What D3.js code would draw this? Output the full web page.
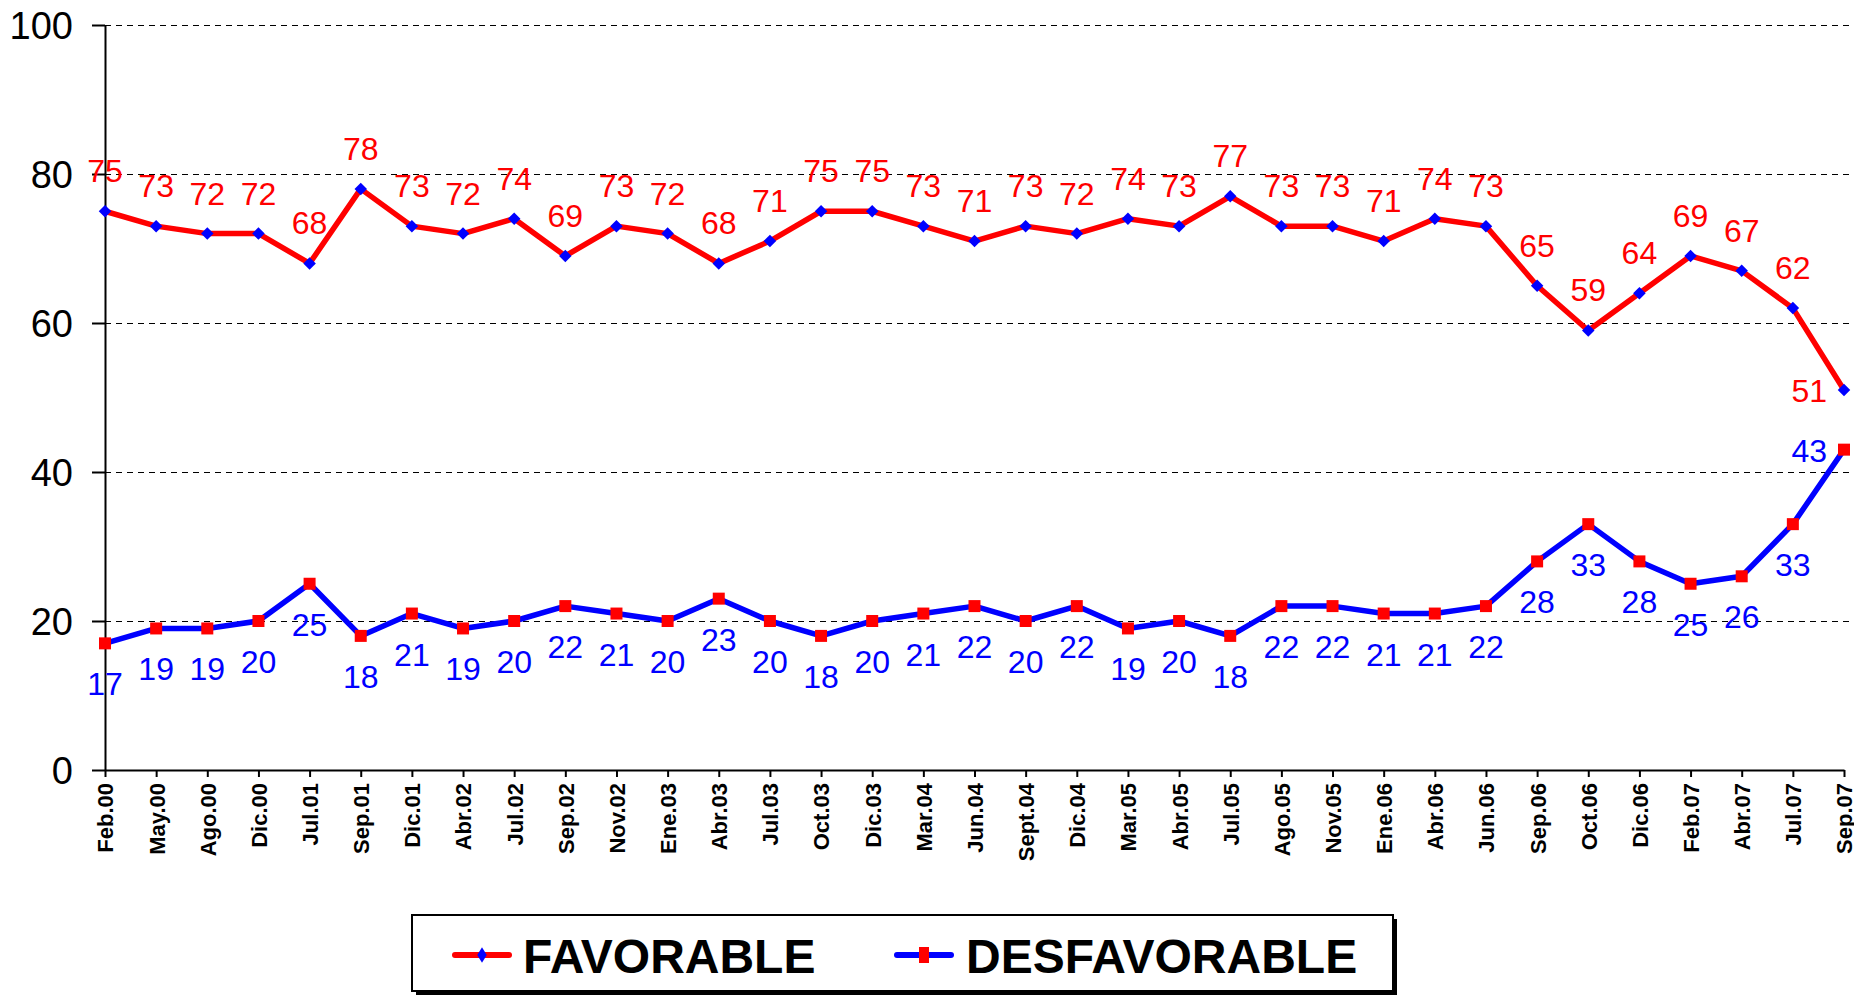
<!DOCTYPE html>
<html>
	<head>
		<meta charset="utf-8"/>
		<script type="text/javascript" src="https://cdn.jsdelivr.net/npm/d3@7"></script>
		<style>
			body {
				margin:0;
				background:#FFF;
			}
			svg text {
				font-family:Arial, "Liberation Sans", sans-serif;
			}
			.ytick text {
				font-size:38px;
				fill:black;
			}
			.xtick text {
				font-size:22px;
				font-weight:bold;
				fill:black;
			}
			.label_fav {
				font-size:32px;
				fill:#FF0000;
			}
			.label_des {
				font-size:32px;
				fill:#0000FF;
			}
			.legend_text {
				font-size:48px;
				font-weight:bold;
				fill:black;
			}
		</style>
	</head>
	<body>
		<script>
			var categories = ["Feb.00", "May.00", "Ago.00", "Dic.00", "Jul.01", "Sep.01", "Dic.01", "Abr.02", "Jul.02", "Sep.02",
				"Nov.02", "Ene.03", "Abr.03", "Jul.03", "Oct.03", "Dic.03", "Mar.04", "Jun.04", "Sept.04", "Dic.04",
				"Mar.05", "Abr.05", "Jul.05", "Ago.05", "Nov.05", "Ene.06", "Abr.06", "Jun.06", "Sep.06", "Oct.06",
				"Dic.06", "Feb.07", "Abr.07", "Jul.07", "Sep.07"];
			var favorable = [75, 73, 72, 72, 68, 78, 73, 72, 74, 69,
				73, 72, 68, 71, 75, 75, 73, 71, 73, 72,
				74, 73, 77, 73, 73, 71, 74, 73, 65, 59,
				64, 69, 67, 62, 51];
			var desfavorable = [17, 19, 19, 20, 25, 18, 21, 19, 20, 22,
				21, 20, 23, 20, 18, 20, 21, 22, 20, 22,
				19, 20, 18, 22, 22, 21, 21, 22, 28, 33,
				28, 25, 26, 33, 43];
			var y_ticks = [0, 20, 40, 60, 80, 100];
			var series_names = ["FAVORABLE", "DESFAVORABLE"];

			var width = 1854;
			var height = 995;
			var left = 105;
			var right = 1844;
			var top_y = 25;
			var bottom_y = 770;
			var red = "#FF0000";
			var blue = "#0000FF";

			var svg = d3.select("body").append("svg")
				.attr("width", width)
				.attr("height", height);

			var x = d3.scalePoint().domain(categories).range([left, right]);
			var y = d3.scaleLinear().domain([0, 100]).range([bottom_y, top_y]);

			// gridlines
			svg.append("g")
				.selectAll("line")
				.data(y_ticks.filter(function(d) { return d > 0; }))
				.enter().append("line")
				.attr("x1", left)
				.attr("x2", 1849)
				.attr("y1", function(d) { return Math.round(y(d)) + 0.5; })
				.attr("y2", function(d) { return Math.round(y(d)) + 0.5; })
				.attr("stroke", "#000")
				.attr("stroke-width", 1)
				.attr("stroke-dasharray", "6,5");

			// y axis
			var yAxis = svg.append("g")
				.attr("class", "ytick")
				.attr("transform", "translate(" + left + ",0)")
				.call(d3.axisLeft(y).tickValues(y_ticks).tickSize(13).tickPadding(19).tickSizeOuter(0));
			yAxis.select(".domain").attr("stroke", "#000").attr("stroke-width", 2);
			yAxis.selectAll(".tick line").attr("stroke-width", 2);
			yAxis.selectAll("text").attr("font-family", null).attr("font-size", null).attr("dy", "0.36em");

			// x axis
			var xAxis = svg.append("g")
				.attr("class", "xtick")
				.attr("transform", "translate(0," + bottom_y + ")")
				.call(d3.axisBottom(x).tickSize(7).tickSizeOuter(0));
			xAxis.select(".domain").attr("stroke", "#000").attr("stroke-width", 2);
			xAxis.selectAll(".tick line").attr("stroke-width", 2);
			xAxis.selectAll("text")
				.attr("font-family", null)
				.attr("font-size", null)
				.attr("transform", "rotate(-90)")
				.attr("text-anchor", "end")
				.attr("x", -13)
				.attr("y", 0)
				.attr("dy", "0.36em");

			var line = d3.line()
				.x(function(d, i) { return x(categories[i]); })
				.y(function(d) { return y(d); });

			// favorable
			svg.append("path")
				.datum(favorable)
				.attr("d", line)
				.attr("fill", "none")
				.attr("stroke", red)
				.attr("stroke-width", 5.5)
				.attr("stroke-linejoin", "round");

			// desfavorable
			svg.append("path")
				.datum(desfavorable)
				.attr("d", line)
				.attr("fill", "none")
				.attr("stroke", blue)
				.attr("stroke-width", 5.5)
				.attr("stroke-linejoin", "round");

			var diamond = d3.symbol().type(d3.symbolDiamond2).size(100);

			svg.append("g")
				.selectAll("path")
				.data(favorable)
				.enter().append("path")
				.attr("d", diamond)
				.attr("transform", function(d, i) { return "translate(" + x(categories[i]) + "," + y(d) + ")"; })
				.attr("fill", blue);

			svg.append("g")
				.selectAll("rect")
				.data(desfavorable)
				.enter().append("rect")
				.attr("x", function(d, i) { return x(categories[i]) - 6; })
				.attr("y", function(d) { return y(d) - 6; })
				.attr("width", 12)
				.attr("height", 12)
				.attr("fill", red);

			var last = categories.length - 1;

			svg.append("g")
				.selectAll("text")
				.data(favorable)
				.enter().append("text")
				.attr("class", "label_fav")
				.attr("x", function(d, i) { return i == last ? x(categories[i]) - 17 : x(categories[i]); })
				.attr("y", function(d, i) { return i == last ? y(d) + 12 : y(d) - 29; })
				.attr("text-anchor", function(d, i) { return i == last ? "end" : "middle"; })
				.text(function(d) { return d; });

			svg.append("g")
				.selectAll("text")
				.data(desfavorable)
				.enter().append("text")
				.attr("class", "label_des")
				.attr("x", function(d, i) { return i == last ? x(categories[i]) - 17 : x(categories[i]); })
				.attr("y", function(d, i) { return i == last ? y(d) + 12 : y(d) + 52; })
				.attr("text-anchor", function(d, i) { return i == last ? "end" : "middle"; })
				.text(function(d) { return d; });

			// legend
			var legend = svg.append("g");
			legend.append("rect")
				.attr("x", 416)
				.attr("y", 919)
				.attr("width", 981)
				.attr("height", 76)
				.attr("fill", "#000");
			legend.append("rect")
				.attr("x", 412)
				.attr("y", 915)
				.attr("width", 981)
				.attr("height", 76)
				.attr("fill", "#FFF")
				.attr("stroke", "#000")
				.attr("stroke-width", 2);

			var legend_items = [
				{name:series_names[0], line:red, mark:blue, x0:455, tx:523},
				{name:series_names[1], line:blue, mark:red, x0:897, tx:966}
			];
			legend_items.forEach(function(item, k) {
				legend.append("line")
					.attr("x1", item.x0)
					.attr("x2", item.x0 + 54)
					.attr("y1", 955)
					.attr("y2", 955)
					.attr("stroke", item.line)
					.attr("stroke-width", 6)
					.attr("stroke-linecap", "round");
				if (k == 0) {
					legend.append("path")
						.attr("d", d3.symbol().type(d3.symbolDiamond2).size(90))
						.attr("transform", "translate(" + (item.x0 + 27) + ",955) scale(0.8,1.3)")
						.attr("fill", item.mark);
				} else {
					legend.append("rect")
						.attr("x", item.x0 + 22)
						.attr("y", 947)
						.attr("width", 10)
						.attr("height", 16)
						.attr("fill", item.mark);
				}
				legend.append("text")
					.attr("class", "legend_text")
					.attr("x", item.tx)
					.attr("y", 973)
					.text(item.name);
			});
		</script>
	</body>
</html>
